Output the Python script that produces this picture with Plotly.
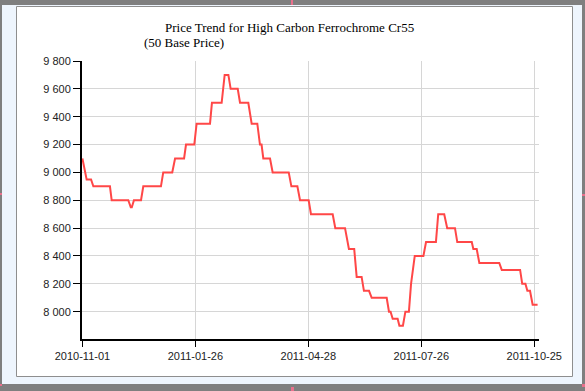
import plotly.graph_objects as go

# ---- data ----
day_index = [0, 2.4, 4.9, 6.2, 15.6, 16.6, 26, 27.4, 28, 29.2, 33.2, 34.5, 44.5, 45.8, 50.9,
             52.5, 57.6, 58.7, 63.4, 64.7, 72.3, 73.4, 78.9, 80.6, 82.7, 84, 88, 89.3, 94,
             95.9, 99.1, 100.6, 101.5, 102.5, 106.3, 107.8, 116.9, 118.4, 121.8, 123.3, 128.2,
             129.5, 141.8, 143.3, 148.8, 151, 154, 155.4, 158.2, 159.5, 162.4, 163.9, 172.4,
             173.7, 174.6, 175.8, 178.6, 179.6, 181.6, 183, 185, 186.2, 188.3, 193.2, 194.7,
             200.3, 201.6, 205, 206.7, 211.1, 212.4, 220.6, 221.5, 223.4, 224.9, 236.2, 237.6,
             248, 249.2, 251, 252.1, 253.6, 255.1, 257.9]
price = [9100, 8950, 8950, 8900, 8900, 8800, 8800, 8750, 8750, 8800, 8800, 8900, 8900, 9000, 9000,
         9100, 9100, 9200, 9200, 9350, 9350, 9500, 9500, 9700, 9700, 9600, 9600, 9500, 9500,
         9350, 9350, 9200, 9200, 9100, 9100, 9000, 9000, 8900, 8900, 8800, 8800,
         8700, 8700, 8600, 8600, 8450, 8450, 8250, 8250, 8150, 8150, 8100, 8100,
         8000, 8000, 7950, 7950, 7900, 7900, 8000, 8000, 8200, 8400, 8400, 8500,
         8500, 8700, 8700, 8600, 8600, 8500, 8500, 8450, 8450, 8350, 8350, 8300,
         8300, 8200, 8200, 8150, 8150, 8050, 8050]

x_tick_positions = [0, 64, 128, 192, 256]
x_tick_labels = ["2010-11-01", "2011-01-26", "2011-04-28", "2011-07-26", "2011-10-25"]
y_tick_values = [8000, 8200, 8400, 8600, 8800, 9000, 9200, 9400, 9600, 9800]
y_tick_labels = ["8 000", "8 200", "8 400", "8 600", "8 800", "9 000", "9 200", "9 400", "9 600", "9 800"]

title_line1 = "Price Trend for High Carbon Ferrochrome Cr55"
title_line2 = "(50 Base Price)"

# ---- layout geometry ----
W, H = 585, 391
L, R, T, B = 82, 46, 61, 52
PW, PH = W - L - R, H - T - B


def px(x):
    return (x - L) / PW


def py(y):
    return 1 - (y - T) / PH


fig = go.Figure()
fig.add_trace(go.Scatter(
    x=day_index, y=price, mode="lines",
    line=dict(color="#ff4747", width=2),
    hoverinfo="skip", showlegend=False,
))

shapes = []


def rect(x0, y0, x1, y1, fill, line_color=None, lw=0):
    shapes.append(dict(
        type="rect", xref="paper", yref="paper", layer="below",
        x0=px(x0), x1=px(x1), y0=py(y1), y1=py(y0),
        fillcolor=fill,
        line=dict(color=line_color or fill, width=lw),
    ))


# frame
rect(2, 5, 582, 384, "#eef5fd")
rect(16.5, 6.5, 572.5, 376.5, "#ffffff", "#8e8e8e", 1)
# small pink handles
pink = "#ea6f8c"
rect(291, 0, 293, 5, pink)
rect(291, 387, 294, 391, pink)
rect(0, 193, 2, 195, pink)
rect(582, 194, 585, 196, pink)
rect(0, 384, 2, 386, pink)
rect(582, 384, 585, 387, pink)

annotations = [
    dict(text=title_line1, xref="paper", yref="paper", x=px(163), y=py(27),
         xanchor="left", yanchor="middle", showarrow=False,
         font=dict(family="Liberation Serif, Times New Roman, serif", size=13, color="#000")),
    dict(text=title_line2, xref="paper", yref="paper", x=px(142), y=py(43),
         xanchor="left", yanchor="middle", showarrow=False,
         font=dict(family="Liberation Serif, Times New Roman, serif", size=13, color="#000")),
]

tickfont = dict(family="Liberation Sans, Arial, sans-serif", size=11, color="#222")

fig.update_layout(
    width=W, height=H,
    margin=dict(l=L, r=R, t=T, b=B, pad=0),
    paper_bgcolor="#7f7f7f",
    plot_bgcolor="rgba(0,0,0,0)",
    shapes=shapes,
    annotations=annotations,
    showlegend=False,
    xaxis=dict(
        range=[-0.23, 258.7], tickmode="array",
        tickvals=x_tick_positions, ticktext=x_tick_labels,
        showgrid=True, gridcolor="#d6d6d6", gridwidth=1,
        showline=True, linecolor="#000", linewidth=2,
        ticks="outside", ticklen=6, tickwidth=1, tickcolor="#000",
        zeroline=False, tickfont=tickfont, fixedrange=True,
    ),
    yaxis=dict(
        range=[7804, 9800], tickmode="array",
        tickvals=y_tick_values, ticktext=y_tick_labels,
        showgrid=True, gridcolor="#d6d6d6", gridwidth=1,
        showline=True, linecolor="#000", linewidth=2,
        ticks="outside", ticklen=7, tickwidth=1, tickcolor="#000",
        zeroline=False, tickfont=tickfont, fixedrange=True,
    ),
)

fig.write_html(
    "out.html",
    config={"displayModeBar": False},
    post_script="document.body.style.margin='0';document.body.style.overflow='hidden';",
)
